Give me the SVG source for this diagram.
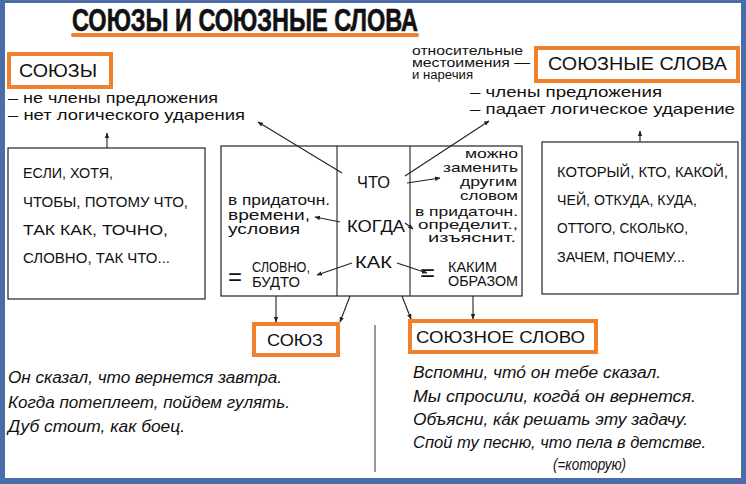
<svg xmlns="http://www.w3.org/2000/svg" width="746" height="484" viewBox="0 0 746 484">
<style>
.t{font-family:"Liberation Sans",Arial,sans-serif;fill:#111}
.i{font-family:"Liberation Sans",Arial,sans-serif;font-style:italic;fill:#111;font-size:16px}
.box{fill:#fff;stroke:#222;stroke-width:1.2}
.obox{fill:#fff;stroke:#f0802c;stroke-width:4}
.ln{stroke:#222;stroke-width:1.1;fill:none}
.ar{stroke:#222;stroke-width:1.1;fill:none;marker-end:url(#ah)}
</style>
<defs>
<marker id="ah" viewBox="0 0 10 10" refX="9" refY="5" markerWidth="5" markerHeight="5" orient="auto" markerUnits="strokeWidth">
<path d="M0,1 L10,5 L0,9 z" fill="#222"/>
</marker>
</defs>
<rect x="0" y="0" width="746" height="484" fill="#4a6da7"/>
<rect x="5" y="3" width="736" height="475" fill="#fff"/>

<g id="title">
<text class="t" x="72" y="31" font-size="31" font-weight="bold" textLength="346" lengthAdjust="spacingAndGlyphs" stroke="#111" stroke-width="0.6">СОЮЗЫ И СОЮЗНЫЕ СЛОВА</text>
<line x1="73" y1="35" x2="417" y2="35" stroke="#f0802c" stroke-width="4" stroke-linecap="round"/>
</g>

<g id="soyuzy-label">
<rect class="obox" x="9" y="54" width="102" height="33"/>
<text class="t" x="19" y="77" font-size="19" textLength="78" lengthAdjust="spacingAndGlyphs">СОЮЗЫ</text>
<text class="t" x="8" y="103" font-size="15" textLength="210" lengthAdjust="spacingAndGlyphs">– не члены предложения</text>
<text class="t" x="8" y="120" font-size="15" textLength="237" lengthAdjust="spacingAndGlyphs">– нет логического ударения</text>
</g>

<g id="soyuznye-label">
<text class="t" x="412" y="55" font-size="12" textLength="111" lengthAdjust="spacingAndGlyphs">относительные</text>
<text class="t" x="412" y="67" font-size="12" textLength="118" lengthAdjust="spacingAndGlyphs">местоимения —</text>
<text class="t" x="412" y="79" font-size="12" textLength="61" lengthAdjust="spacingAndGlyphs">и наречия</text>
<rect class="obox" x="536" y="48" width="202" height="33"/>
<text class="t" x="548" y="70" font-size="18" textLength="179" lengthAdjust="spacingAndGlyphs">СОЮЗНЫЕ СЛОВА</text>
<text class="t" x="470" y="97" font-size="15" textLength="192" lengthAdjust="spacingAndGlyphs">– члены предложения</text>
<text class="t" x="470" y="114" font-size="15" textLength="265" lengthAdjust="spacingAndGlyphs">– падает логическое ударение</text>
</g>

<g id="left-box">
<rect class="box" x="8" y="148" width="197" height="151"/>
<text class="t" x="23" y="178" font-size="14" textLength="90" lengthAdjust="spacingAndGlyphs">ЕСЛИ, ХОТЯ,</text>
<text class="t" x="23" y="207" font-size="14" textLength="165" lengthAdjust="spacingAndGlyphs">ЧТОБЫ, ПОТОМУ ЧТО,</text>
<text class="t" x="23" y="235" font-size="14" textLength="145" lengthAdjust="spacingAndGlyphs">ТАК КАК, ТОЧНО,</text>
<text class="t" x="23" y="263" font-size="14" textLength="147" lengthAdjust="spacingAndGlyphs">СЛОВНО, ТАК ЧТО...</text>
</g>

<g id="right-box">
<rect class="box" x="542" y="142" width="196" height="152"/>
<text class="t" x="557" y="177" font-size="14" textLength="171" lengthAdjust="spacingAndGlyphs">КОТОРЫЙ, КТО, КАКОЙ,</text>
<text class="t" x="557" y="205" font-size="14" textLength="140" lengthAdjust="spacingAndGlyphs">ЧЕЙ, ОТКУДА, КУДА,</text>
<text class="t" x="557" y="233" font-size="14" textLength="131" lengthAdjust="spacingAndGlyphs">ОТТОГО, СКОЛЬКО,</text>
<text class="t" x="557" y="262" font-size="14" textLength="128" lengthAdjust="spacingAndGlyphs">ЗАЧЕМ, ПОЧЕМУ...</text>
</g>

<g id="center-table">
<rect class="box" x="221" y="146" width="301" height="150"/>
<line class="ln" x1="337" y1="146" x2="337" y2="296"/>
<line class="ln" x1="410" y1="146" x2="410" y2="296"/>
<text class="t" x="357" y="188" font-size="17" textLength="33" lengthAdjust="spacingAndGlyphs">ЧТО</text>
<text class="t" x="347" y="232" font-size="17" textLength="58" lengthAdjust="spacingAndGlyphs">КОГДА</text>
<text class="t" x="355" y="268" font-size="17" textLength="37" lengthAdjust="spacingAndGlyphs">КАК</text>
<text class="t" x="228" y="205" font-size="14" textLength="102" lengthAdjust="spacingAndGlyphs">в придаточн.</text>
<text class="t" x="228" y="220" font-size="14" textLength="82" lengthAdjust="spacingAndGlyphs">времени,</text>
<text class="t" x="228" y="234" font-size="14" textLength="72" lengthAdjust="spacingAndGlyphs">условия</text>
<text class="t" x="228" y="285" font-size="24" textLength="14" lengthAdjust="spacingAndGlyphs">=</text>
<text class="t" x="252" y="272" font-size="14" textLength="58" lengthAdjust="spacingAndGlyphs">СЛОВНО,</text>
<text class="t" x="252" y="287" font-size="14" textLength="48" lengthAdjust="spacingAndGlyphs">БУДТО</text>
<text class="t" x="465" y="158" font-size="13" textLength="53" lengthAdjust="spacingAndGlyphs">можно</text>
<text class="t" x="443" y="172" font-size="13" textLength="75" lengthAdjust="spacingAndGlyphs">заменить</text>
<text class="t" x="460" y="186" font-size="13" textLength="57" lengthAdjust="spacingAndGlyphs">другим</text>
<text class="t" x="460" y="200" font-size="13" textLength="58" lengthAdjust="spacingAndGlyphs">словом</text>
<text class="t" x="415" y="216" font-size="13" textLength="103" lengthAdjust="spacingAndGlyphs">в придаточн.</text>
<text class="t" x="418" y="229" font-size="13" textLength="100" lengthAdjust="spacingAndGlyphs">определит.,</text>
<text class="t" x="428" y="242" font-size="13" textLength="88" lengthAdjust="spacingAndGlyphs">изъяснит.</text>
<text class="t" x="420" y="281" font-size="24" textLength="15" lengthAdjust="spacingAndGlyphs">=</text>
<text class="t" x="448" y="272" font-size="14" textLength="49" lengthAdjust="spacingAndGlyphs">КАКИМ</text>
<text class="t" x="448" y="286" font-size="14" textLength="70" lengthAdjust="spacingAndGlyphs">ОБРАЗОМ</text>
</g>

<g id="soyuz-box">
<rect class="obox" x="254" y="324" width="84" height="31"/>
<text class="t" x="267" y="346" font-size="17" textLength="56" lengthAdjust="spacingAndGlyphs">СОЮЗ</text>
</g>

<g id="soyuznoe-box">
<rect class="obox" x="410" y="321" width="186" height="31"/>
<text class="t" x="416" y="343" font-size="17" textLength="169" lengthAdjust="spacingAndGlyphs">СОЮЗНОЕ СЛОВО</text>
</g>

<g id="examples-left">
<text class="i" x="8" y="383" textLength="274" lengthAdjust="spacingAndGlyphs">Он сказал, что вернется завтра.</text>
<text class="i" x="8" y="408" textLength="282" lengthAdjust="spacingAndGlyphs">Когда потеплеет, пойдем гулять.</text>
<text class="i" x="8" y="432" textLength="177" lengthAdjust="spacingAndGlyphs">Дуб стоит, как боец.</text>
</g>

<g id="examples-right">
<text class="i" x="413" y="378" textLength="248" lengthAdjust="spacingAndGlyphs">Вспомни, что́ он тебе сказал.</text>
<text class="i" x="413" y="402" textLength="283" lengthAdjust="spacingAndGlyphs">Мы спросили, когда́ он вернется.</text>
<text class="i" x="413" y="425" textLength="275" lengthAdjust="spacingAndGlyphs">Объясни, ка́к решать эту задачу.</text>
<text class="i" x="413" y="448" textLength="293" lengthAdjust="spacingAndGlyphs">Спой ту песню, что пела в детстве.</text>
<text class="i" x="553" y="470" font-size="11" textLength="73" lengthAdjust="spacingAndGlyphs">(=которую)</text>
</g>

<g id="connectors">
<line class="ar" x1="342" y1="173" x2="258" y2="122"/>
<line class="ar" x1="405" y1="176" x2="489" y2="121"/>
<line class="ar" x1="107" y1="148" x2="107" y2="133"/>
<line class="ar" x1="640" y1="142" x2="640" y2="131"/>
<line class="ar" x1="407" y1="183" x2="440" y2="178"/>
<line class="ar" x1="340" y1="222" x2="315" y2="217"/>
<line class="ar" x1="405" y1="223" x2="413" y2="229"/>
<line class="ar" x1="352" y1="263" x2="317" y2="275"/>
<line class="ar" x1="397" y1="263" x2="427" y2="273"/>
<line class="ar" x1="276" y1="296" x2="276" y2="322"/>
<line class="ar" x1="350" y1="296" x2="340" y2="322"/>
<line class="ar" x1="402" y1="296" x2="411" y2="319"/>
<line class="ar" x1="473" y1="296" x2="473" y2="319"/>
<line x1="375" y1="325" x2="375" y2="472" stroke="#555" stroke-width="1.2"/>
</g>
</svg>
